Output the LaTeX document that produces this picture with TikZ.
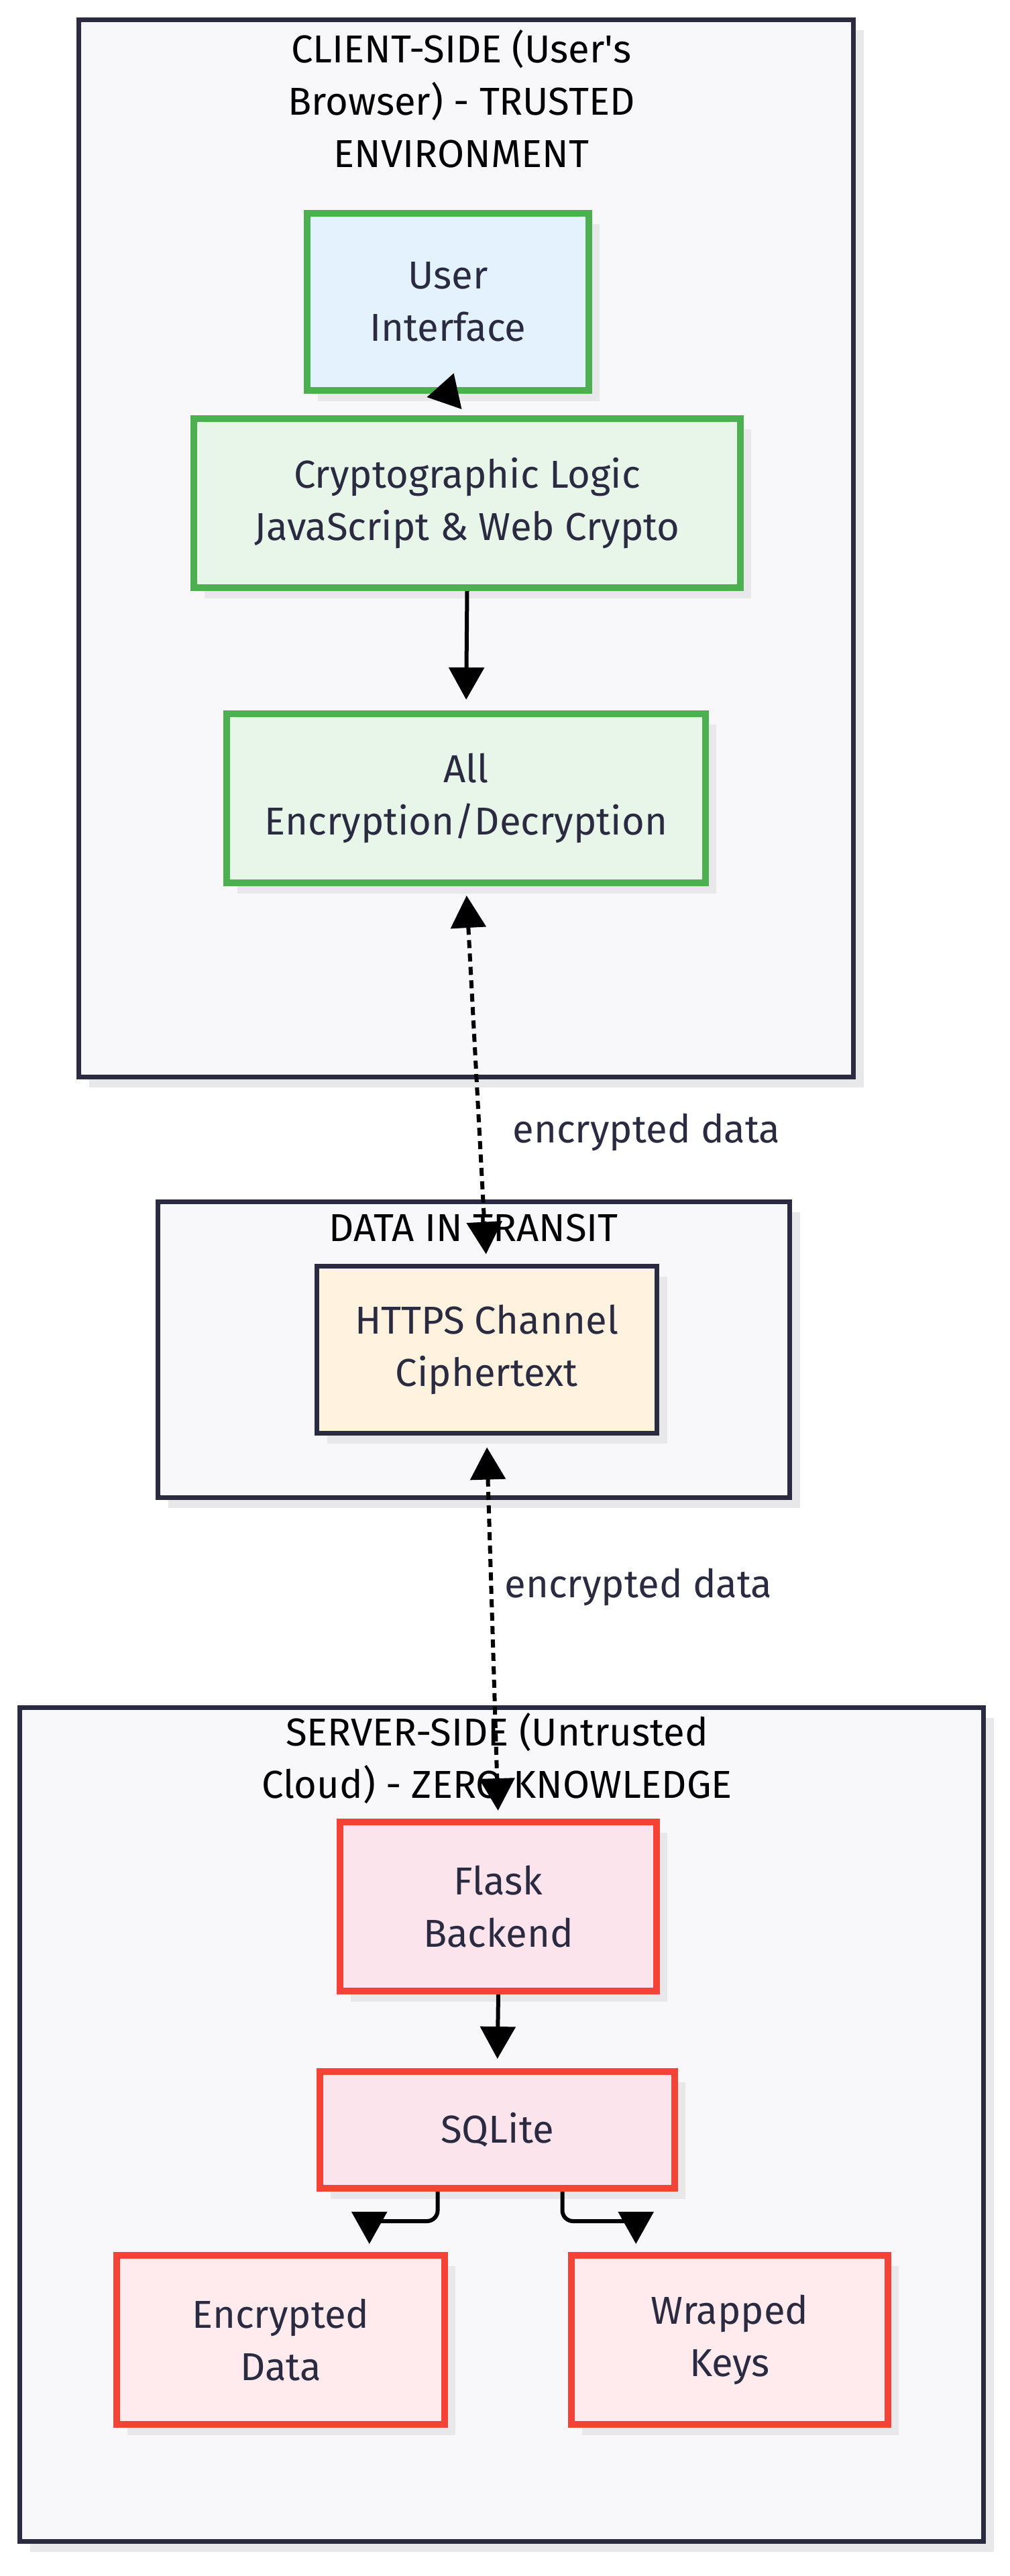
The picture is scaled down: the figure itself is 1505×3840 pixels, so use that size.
\documentclass[tikz,border=0pt]{standalone}
\usepackage{fontspec}
\setmainfont{Fira Sans}
\usetikzlibrary{arrows.meta,shadows,calc}
\definecolor{clusterfill}{HTML}{F8F8FA}
\definecolor{clusterline}{HTML}{2A2A40}
\definecolor{inknavy}{HTML}{2A2A40}
\definecolor{trustgreen}{HTML}{4CAF50}
\definecolor{uiblue}{HTML}{E3F2FD}
\definecolor{logicgreen}{HTML}{E8F5E9}
\definecolor{wireorange}{HTML}{FFF3E0}
\definecolor{cloudred}{HTML}{F44336}
\definecolor{backpink}{HTML}{FCE4EC}
\definecolor{storepink}{HTML}{FFEBEE}
\definecolor{shadowgray}{HTML}{E8E8EA}
\newcommand{\diafont}{\fontsize{29}{39}\selectfont}

\begin{document}
\begin{tikzpicture}[x=0.5pt,y=-0.5pt,
  cast/.style={drop shadow={shadow xshift=8pt,shadow yshift=-8pt,fill=shadowgray,opacity=1}},
  cluster/.style={draw=clusterline,line width=3.5pt,fill=clusterfill,cast,inner sep=0pt},
  clustertitle/.style={font=\diafont,text=black,align=center,inner sep=0pt},
  box/.style={line width=5pt,cast,inner sep=0pt,font=\diafont,text=inknavy,align=center},
  clientbox/.style={box,draw=trustgreen,fill=logicgreen},
  serverbox/.style={box,draw=cloudred,fill=backpink},
  storebox/.style={box,draw=cloudred,fill=storepink},
  flow/.style={-{Triangle[length=24pt,width=26pt]},line width=3pt,black},
  link/.style={{Triangle[length=24pt,width=26pt]}-{Triangle[length=24pt,width=26pt]},line width=3pt,black,dash pattern=on 6pt off 4pt},
  linklabel/.style={font=\diafont,text=inknavy,inner sep=0pt}]
\useasboundingbox (0,0) rectangle (1505,3840);
\node (client) at (694.5,817) [cluster,minimum width=577.5pt,minimum height=788pt] {};
\node (transit) at (706,2011.5) [cluster,minimum width=471pt,minimum height=220.5pt] {};
\node (server) at (747.5,3166.5) [cluster,minimum width=718.5pt,minimum height=621.5pt] {};
\node (clienttitle) at (688,147) [clustertitle] {CLIENT-SIDE (User\textquotesingle s\\Browser) - TRUSTED\\ENVIRONMENT};
\node (transittitle) at (706,1830) [clustertitle] {DATA IN TRANSIT};
\node (servertitle) at (741,2621) [clustertitle] {SERVER-SIDE (Untrusted\\Cloud) - ZERO KNOWLEDGE};
\node (ui) at (668,450) [box,draw=trustgreen,fill=uiblue,minimum width=210pt,minimum height=132pt] {User\\Interface};
\node (logic) at (696.5,750) [clientbox,minimum width=407.5pt,minimum height=126pt] {Cryptographic Logic\\JavaScript \& Web Crypto};
\node (cipher) at (695,1190) [clientbox,minimum width=357pt,minimum height=126pt] {All\\Encryption/Decryption};
\node (https) at (725.5,2011.5) [box,draw=inknavy,line width=3.5pt,fill=wireorange,minimum width=253.5pt,minimum height=124.5pt] {HTTPS Channel\\Ciphertext};
\node (flask) at (743,2842) [serverbox,minimum width=236pt,minimum height=126pt] {Flask\\Backend};
\node (sqlite) at (741.5,3175) [serverbox,minimum width=264.5pt,minimum height=87pt] {SQLite};
\node (encdata) at (418.5,3488) [storebox,minimum width=244.5pt,minimum height=126pt] {Encrypted\\Data};
\node (wrapkeys) at (1088,3488) [storebox,minimum width=236pt,minimum height=126pt] {Wrapped\\Keys};
\node (uplabel) at (964,1688) [linklabel] {encrypted data};
\node (downlabel) at (952,2366) [linklabel] {encrypted data};
\coordinate (encout) at ($(sqlite.south west)!0.335!(sqlite.south east)$);
\coordinate (keysout) at ($(sqlite.south west)!0.68!(sqlite.south east)$);
\coordinate (encin) at ($(encdata.north west)!0.765!(encdata.north east)$);
\coordinate (keysin) at ($(wrapkeys.north west)!0.21!(wrapkeys.north east)$);
\draw[flow,shorten >=6pt] (ui.south) -- (logic.north);
\draw[flow,shorten >=8pt] (logic.south) -- (cipher.north);
\draw[link,shorten <=7pt,shorten >=7pt] (cipher.south) -- (https.north);
\draw[link,shorten <=9pt,shorten >=6pt] (https.south) -- (flask.north);
\draw[flow,shorten >=7pt] (flask.south) -- (sqlite.north);
\draw[flow,rounded corners=8pt,shorten >=6pt] (encout) |- ($(encin)+(0,23pt)$) -- (encin);
\draw[flow,rounded corners=8pt,shorten >=6pt] (keysout) |- ($(keysin)+(0,23pt)$) -- (keysin);
\end{tikzpicture}
\end{document}
